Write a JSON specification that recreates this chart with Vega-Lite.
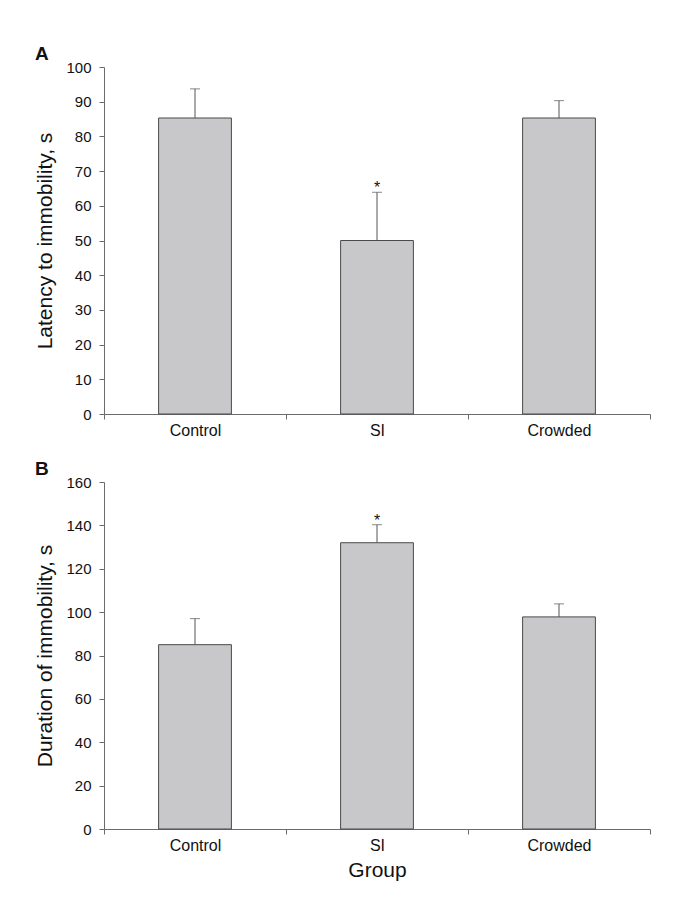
{
  "$schema": "https://vega.github.io/schema/vega-lite/v6.json",
  "padding": {"left": 34, "top": 45, "right": 5, "bottom": 5},
  "datasets": {
    "latency": [
      {"group": "Control", "mean": 85.3, "upper": 93.7, "star": ""},
      {"group": "SI", "mean": 50.0, "upper": 63.9, "star": "*"},
      {"group": "Crowded", "mean": 85.3, "upper": 90.3, "star": ""}
    ],
    "duration": [
      {"group": "Control", "mean": 85.0, "upper": 97.0, "star": ""},
      {"group": "SI", "mean": 132.0, "upper": 140.3, "star": "*"},
      {"group": "Crowded", "mean": 97.8, "upper": 103.8, "star": ""}
    ]
  },
  "spacing": 22,
  "config": {
    "font": "Liberation Sans",
    "view": {"stroke": null},
    "axis": {
      "domainColor": "#6b6b6b",
      "tickColor": "#6b6b6b",
      "labelColor": "#111111",
      "titleColor": "#111111",
      "grid": false,
      "labelFont": "Liberation Sans",
      "titleFont": "Liberation Sans",
      "titleFontWeight": "normal",
      "tickSize": 5
    },
    "axisY": {"labelFontSize": 15, "labelPadding": 8, "titlePadding": 10, "titleFontSize": 21, "labelOverlap": false},
    "axisX": {"labelFontSize": 16, "labelPadding": 3, "titleFontSize": 21, "titlePadding": 6, "labelAngle": 0},
    "title": {"fontSize": 19, "fontWeight": "bold", "anchor": "start", "frame": "bounds", "font": "Liberation Sans", "color": "#111111"}
  },
  "vconcat": [
    {
      "title": {"text": "A", "offset": -4},
      "width": 546,
      "height": 347,
      "data": {"name": "latency"},
      "encoding": {
        "x": {"field": "group", "type": "nominal", "sort": ["Control", "SI", "Crowded"],
          "scale": {"paddingInner": 0, "paddingOuter": 0},
          "axis": {"title": null, "tickBand": "extent"}}
      },
      "layer": [
        {"mark": {"type": "rule", "stroke": "#555555"},
         "encoding": {"y": {"field": "mean", "type": "quantitative", "scale": {"domain": [0, 100], "nice": false},
           "axis": {"title": "Latency to immobility, s", "values": [0, 10, 20, 30, 40, 50, 60, 70, 80, 90, 100]}}, "y2": {"field": "upper"}}},
        {"mark": {"type": "bar", "width": {"band": 0.4}, "fill": "#c8c8ca", "stroke": "#4a4a4a", "strokeWidth": 1},
         "encoding": {"y": {"field": "mean", "type": "quantitative", "scale": {"domain": [0, 100], "nice": false},
           "axis": {"title": "Latency to immobility, s", "values": [0, 10, 20, 30, 40, 50, 60, 70, 80, 90, 100]}}}},
        {"mark": {"type": "tick", "orient": "horizontal", "size": 10, "thickness": 1, "color": "#555555"},
         "encoding": {"y": {"field": "upper", "type": "quantitative", "scale": {"domain": [0, 100], "nice": false},
           "axis": {"title": "Latency to immobility, s", "values": [0, 10, 20, 30, 40, 50, 60, 70, 80, 90, 100]}}}},
        {"mark": {"type": "text", "baseline": "alphabetic", "dy": 1, "fontSize": 16, "color": "#111111"},
         "encoding": {"y": {"field": "upper", "type": "quantitative", "scale": {"domain": [0, 100], "nice": false},
           "axis": {"title": "Latency to immobility, s", "values": [0, 10, 20, 30, 40, 50, 60, 70, 80, 90, 100]}}, "text": {"field": "star"}}}
      ]
    },
    {
      "title": {"text": "B", "offset": -4},
      "width": 546,
      "height": 347,
      "data": {"name": "duration"},
      "encoding": {
        "x": {"field": "group", "type": "nominal", "sort": ["Control", "SI", "Crowded"],
          "scale": {"paddingInner": 0, "paddingOuter": 0},
          "axis": {"title": "Group", "tickBand": "extent"}}
      },
      "layer": [
        {"mark": {"type": "rule", "stroke": "#555555"},
         "encoding": {"y": {"field": "mean", "type": "quantitative", "scale": {"domain": [0, 160], "nice": false},
           "axis": {"title": "Duration of immobility, s", "values": [0, 20, 40, 60, 80, 100, 120, 140, 160]}}, "y2": {"field": "upper"}}},
        {"mark": {"type": "bar", "width": {"band": 0.4}, "fill": "#c8c8ca", "stroke": "#4a4a4a", "strokeWidth": 1},
         "encoding": {"y": {"field": "mean", "type": "quantitative", "scale": {"domain": [0, 160], "nice": false},
           "axis": {"title": "Duration of immobility, s", "values": [0, 20, 40, 60, 80, 100, 120, 140, 160]}}}},
        {"mark": {"type": "tick", "orient": "horizontal", "size": 10, "thickness": 1, "color": "#555555"},
         "encoding": {"y": {"field": "upper", "type": "quantitative", "scale": {"domain": [0, 160], "nice": false},
           "axis": {"title": "Duration of immobility, s", "values": [0, 20, 40, 60, 80, 100, 120, 140, 160]}}}},
        {"mark": {"type": "text", "baseline": "alphabetic", "dy": 1, "fontSize": 16, "color": "#111111"},
         "encoding": {"y": {"field": "upper", "type": "quantitative", "scale": {"domain": [0, 160], "nice": false},
           "axis": {"title": "Duration of immobility, s", "values": [0, 20, 40, 60, 80, 100, 120, 140, 160]}}, "text": {"field": "star"}}}
      ]
    }
  ]
}
